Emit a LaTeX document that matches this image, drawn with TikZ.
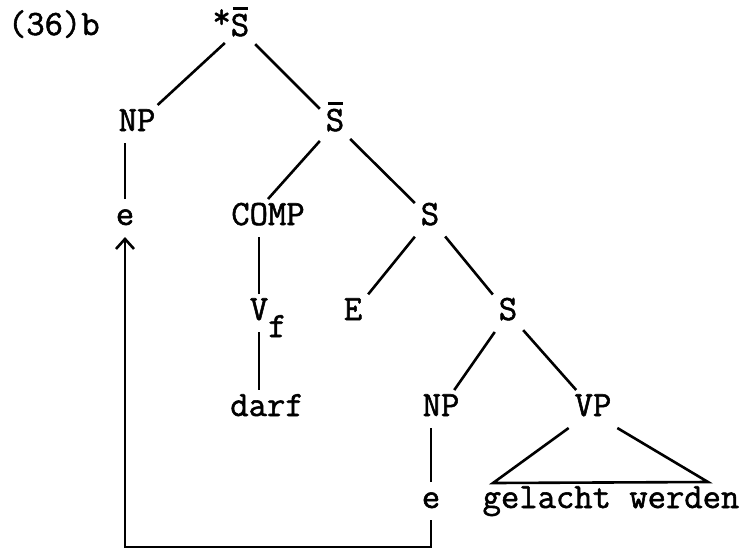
\documentclass[tikz,border=0pt]{standalone}
\usepackage{fontspec}
\setmainfont[FakeBold=1.5]{Latin Modern Mono}
\usetikzlibrary{arrows.meta}
\newcommand{\Sbar}{\rlap{\kern1pt\raisebox{12.8pt}{\vrule height 1.6pt width 7.4pt}}S}
\tikzset{
    cat/.style = {
        anchor=base,
        inner sep=3pt,
        outer sep=0pt,
        text height=10pt,
        text depth=3pt,
        },
    branch/.style = {
        draw,
        line width=1.3pt,
        },
    trace/.style = {
        draw,
        line width=1.3pt,
        -{Straight Barb[length=5pt,width=9pt]},
        },
}
\begin{document}
\begin{tikzpicture}[x=0.5pt,y=-0.5pt,font=\fontsize{17.8}{20}\selectfont]
            \useasboundingbox (0,0) rectangle (744,553);
            \node[cat, anchor=base west] (ex) at (2,35) {(36)b};
            \node[cat] (top) at (240,36) {\llap{\raisebox{4pt}{*}}\Sbar};
            \node[cat] (np1) at (137,131) {NP};
            \node[cat] (sbar) at (335,131) {\Sbar};
            \node[cat] (e1) at (125,225) {e};
            \node[cat] (comp) at (268,225) {COMP};
            \node[cat] (s1) at (430,225) {S};
            \node[cat] (vf) at (259,320) {V\rlap{\raisebox{-8.5pt}{f}}};
            \node[cat] (E) at (353,320) {E};
            \node[cat] (s2) at (508,320) {S};
            \node[cat] (darf) at (267,416) {darf};
            \node[cat] (np2) at (441,416) {NP};
            \node[cat] (vp) at (593,416) {VP};
            \node[cat] (e2) at (431,508) {e};
            \node[cat] (gw) at (611,508) {gelacht werden};

            \path (top) edge[branch] (np1);
            \path (top) edge[branch] (sbar);
            \path (sbar) edge[branch] (comp.north);
            \path (sbar) edge[branch] (s1);
            \path (s1) edge[branch] (E);
            \path (s1) edge[branch] (s2);
            \path (s2) edge[branch] (np2);
            \path (s2) edge[branch] (vp);
            \path (e1.north) edge[branch] (e1.north |- np1.south);
            \path (vf.north) edge[branch] (vf.north |- comp.south);
            \path (vf.south) edge[branch] (vf.south |- darf.north);
            \path (e2.north) edge[branch] (e2.north |- np2.south);

            % triangle over the VP
            \coordinate (base l) at (493,483);
            \coordinate (base r) at (708,482);
            \draw[branch] (vp.south west) -- (base l) -- (base r) -- (vp.south east);

            % movement of the NP
            \coordinate (corner) at (429,547);
            \draw[trace] (e2.south) -- (e2.south |- corner) -| (e1.south);
        \end{tikzpicture}
\end{document}
